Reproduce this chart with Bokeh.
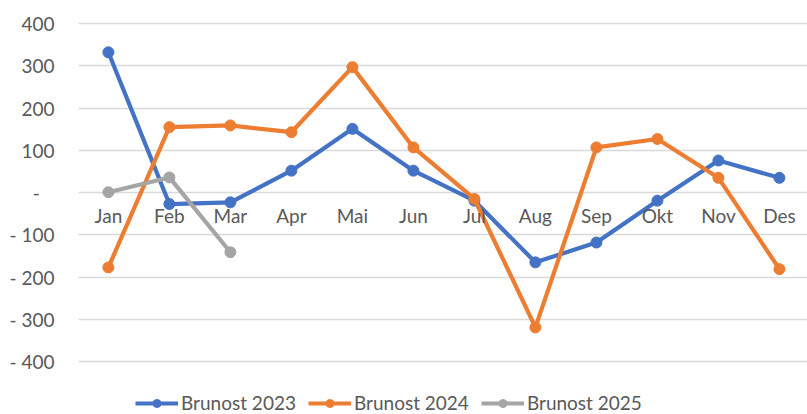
from bokeh.plotting import figure
from bokeh.models import FixedTicker, Legend, LegendItem, Range1d, ColumnDataSource
from bokeh.core.properties import value
from bokeh.embed import file_html
from bokeh.resources import INLINE

months = ["Jan", "Feb", "Mar", "Apr", "Mai", "Jun", "Jul", "Aug", "Sep", "Okt", "Nov", "Des"]
brunost_2023 = [332, -27, -23, 52, 151, 52, -19, -165, -118, -19, 76, 35]
brunost_2024 = [-177, 155, 159, 143, 297, 107, -15, -319, 107, 127, 35, -181]
brunost_2025 = [1, 36, -141]
y_ticks = [-400, -300, -200, -100, 0, 100, 200, 300, 400]
y_tick_labels = ["- 400", "- 300", "- 200", "- 100", "-\u00a0\u00a0\u00a0", "100", "200", "300", "400"]

FONT = "Lato"
TXT = "#595959"
FS = "19px"

xs = list(range(len(months)))

p = figure(width=807, height=414, output_backend="svg", toolbar_location=None,
           x_range=Range1d(-0.49, 11.46), y_range=Range1d(-525, 431),
           min_border_left=78, min_border_right=0, min_border_top=10, min_border_bottom=0)
p.outline_line_color = None
p.background_fill_color = "white"

p.xaxis.visible = False
p.xgrid.visible = False
p.ygrid.grid_line_color = "#d9d9d9"
p.ygrid.grid_line_width = 1.5

ya = p.yaxis[0]
ya.ticker = FixedTicker(ticks=y_ticks)
ya.major_label_overrides = {t: l for t, l in zip(y_ticks, y_tick_labels)}
ya.axis_line_color = None
ya.major_tick_line_color = None
ya.minor_tick_line_color = None
ya.major_tick_out = 0
ya.major_tick_in = 0
ya.major_label_standoff = 24
ya.major_label_text_font = FONT
ya.major_label_text_font_size = FS
ya.major_label_text_color = TXT

series = [
    ("Brunost 2023", brunost_2023, "#4472C4"),
    ("Brunost 2024", brunost_2024, "#ED7D31"),
    ("Brunost 2025", brunost_2025, "#A5A5A5"),
]
items = []
for name, vals, col in series:
    src = ColumnDataSource(dict(x=xs[:len(vals)], y=vals))
    ln = p.line("x", "y", source=src, line_color=col, line_width=4.2)
    sc = p.scatter("x", "y", source=src, size=11, fill_color=col, line_color=col)
    items.append(LegendItem(label=name, renderers=[ln, sc]))

lab = ColumnDataSource(dict(x=xs, y=[0] * len(xs), t=months))
p.text("x", "y", text="t", source=lab, text_align="center", text_baseline="middle",
       y_offset=23, text_font=value(FONT), text_font_size=FS, text_color=TXT)

legend = Legend(items=items, orientation="horizontal", location=(57, 0),
                glyph_width=43, glyph_height=20, label_standoff=3, spacing=12,
                padding=2, margin=0, border_line_color=None, background_fill_alpha=0,
                label_text_font=FONT, label_text_font_size=FS, label_text_color=TXT)
p.add_layout(legend)

open("out.html", "w").write(file_html(p, INLINE))
